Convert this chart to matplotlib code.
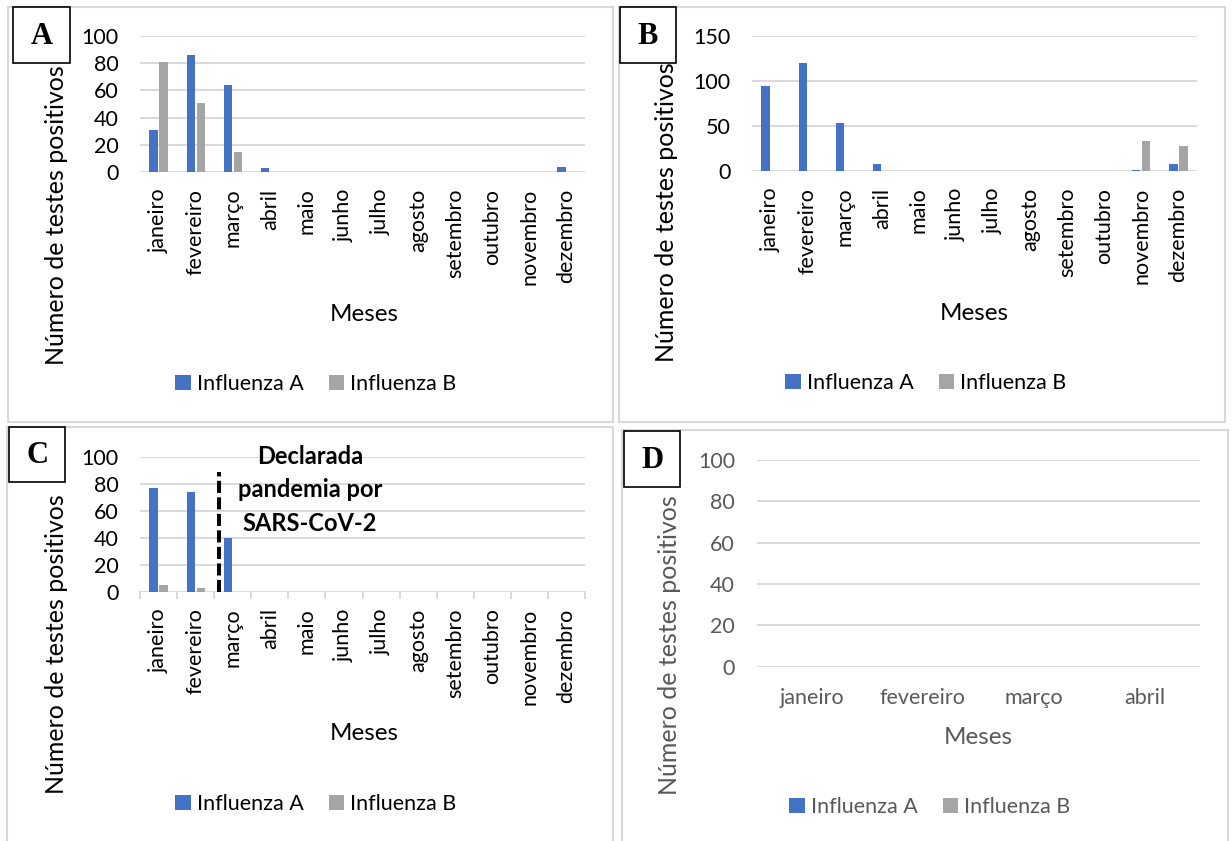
import matplotlib
matplotlib.use("Agg")
import matplotlib.pyplot as plt
from matplotlib.patches import Rectangle, Patch
import numpy as np

plt.rcParams['font.family'] = ['Lato', 'DejaVu Sans']

# ---- data -------------------------------------------------------------
meses = ["janeiro", "fevereiro", "março", "abril", "maio", "junho",
         "julho", "agosto", "setembro", "outubro", "novembro", "dezembro"]

a_flu_a = [31, 86, 64, 3, 0, 0, 0, 0, 0, 0, 0, 4]
a_flu_b = [81, 51, 15, 0, 0, 0, 0, 0, 0, 0, 0, 0]

b_flu_a = [94, 120, 53, 8, 0, 0, 0, 0, 0, 0, 1, 8]
b_flu_b = [0, 0, 0, 0, 0, 0, 0, 0, 0, 0, 33, 28]

c_flu_a = [77, 74, 40, 0, 0, 0, 0, 0, 0, 0, 0, 0]
c_flu_b = [5, 3, 0, 0, 0, 0, 0, 0, 0, 0, 0, 0]

d_meses = ["janeiro", "fevereiro", "março", "abril"]
d_flu_a = [0, 0, 0, 0]
d_flu_b = [0, 0, 0, 0]

series_names = ["Influenza A", "Influenza B"]
BLUE = "#4472C4"
GRAY = "#A5A5A5"
GRID = "#D9D9D9"

# ---- figure -----------------------------------------------------------
W, H = 1232, 841
fig = plt.figure(figsize=(W / 100, H / 100), dpi=100)
fig.patch.set_facecolor("white")


def fx(x):
    return x / W


def fy(y):
    return 1 - y / H


def px_axes(x0, y0, x1, y1):
    return fig.add_axes([fx(x0), fy(y1), (x1 - x0) / W, (y1 - y0) / H])


TICK_FS = 15.5
TITLE_FS = 17.5
YLAB_FS = 18


def panel(ax, cats, va, vb, ymax, ystep, txt_color, rotate=True,
          tickmarks=False):
    x = np.arange(len(cats))
    w = 0.22
    ax.bar(x - 0.135, va, width=w, color=BLUE, linewidth=0, zorder=3)
    ax.bar(x + 0.135, vb, width=w, color=GRAY, linewidth=0, zorder=3)
    ax.set_xlim(-0.5, len(cats) - 0.5)
    ax.set_ylim(0, ymax)
    yt = np.arange(0, ymax + 1, ystep)
    for v in yt:
        ax.axhline(v, color=GRID, lw=1.4, zorder=1)
    ax.set_yticks(yt)
    ax.set_yticklabels([str(int(v)) for v in yt])
    for s in ax.spines.values():
        s.set_visible(False)
    ax.tick_params(axis="y", length=0, pad=15.5, labelsize=TICK_FS,
                   labelcolor=txt_color)
    ax.set_xticks(x)
    if rotate:
        ax.set_xticklabels(cats, rotation=90, va="top", ha="center")
        ax.tick_params(axis="x", length=0, pad=12, labelsize=TICK_FS,
                       labelcolor=txt_color)
    else:
        ax.set_xticklabels(cats)
        ax.tick_params(axis="x", length=0, pad=15, labelsize=TICK_FS,
                       labelcolor=txt_color)
    if tickmarks:
        for b in np.arange(-0.5, len(cats), 1.0):
            ax.plot([b, b], [0, -0.05 * ymax], color=GRID, lw=1.4,
                    clip_on=False, zorder=2)
    ax.set_facecolor("none")


# panel frames
frames = [(8, 7, 613, 422), (619, 7, 1225, 422),
          (7, 427, 613, 850), (622, 430, 1228, 850)]
for (x0, y0, x1, y1) in frames:
    fig.add_artist(Rectangle((fx(x0), fy(y1)), (x1 - x0) / W, (y1 - y0) / H,
                             transform=fig.transFigure, fill=False,
                             edgecolor=GRID, lw=1.5, zorder=0))

axA = px_axes(140, 36, 585, 172)
panel(axA, meses, a_flu_a, a_flu_b, 100, 20, "black")

axB = px_axes(752, 36, 1197, 171)
panel(axB, meses, b_flu_a, b_flu_b, 150, 50, "black")

axC = px_axes(140, 456.7, 585, 591.7)
panel(axC, meses, c_flu_a, c_flu_b, 100, 20, "black", tickmarks=True)

axD = px_axes(756.5, 460, 1200, 666.7)
panel(axD, d_meses, d_flu_a, d_flu_b, 100, 20, "#595959", rotate=False)

# pandemic declaration marker on panel C
axC.plot([1.63, 1.63], [0, 89], color="black", lw=2.9,
         linestyle=(0, (3.0, 1.1)), zorder=4, clip_on=False)
axC.text(4.08, 75.5, "Declarada\npandemia por\nSARS-CoV-2", ha="center",
         va="center", fontsize=17, fontweight="bold", linespacing=1.55,
         color="black", zorder=5)

# axis titles
ylab = "Número de testes positivos"
for (x, y, col) in [(56, 215, "black"), (666, 212, "black"),
                    (56, 644, "black"), (669, 645, "#595959")]:
    fig.text(fx(x), fy(y), ylab, rotation=90, ha="center", va="center",
             fontsize=YLAB_FS, color=col)

for (x, y, col) in [(364, 315, "black"), (974, 313, "black"),
                    (364, 733, "black"), (978, 737, "#595959")]:
    fig.text(fx(x), fy(y), "Meses", ha="center", va="center",
             fontsize=TITLE_FS, color=col)

# legends
handles = [Patch(facecolor=BLUE, edgecolor="none"),
           Patch(facecolor=GRAY, edgecolor="none")]
for (x, y, col) in [(316, 384, "black"), (926, 383, "black"),
                    (316, 804, "black"), (930, 807, "#595959")]:
    lg = fig.legend(handles, series_names, loc="center",
                    bbox_to_anchor=(fx(x), fy(y)), ncol=2, frameon=False,
                    fontsize=TICK_FS, handlelength=0.7, handleheight=0.7,
                    handletextpad=0.28, columnspacing=1.2, borderpad=0,
                    borderaxespad=0)
    for t in lg.get_texts():
        t.set_color(col)

# panel letters
letters = [("A", 13, 7, 70, 63), ("B", 620, 7, 676, 63),
           ("C", 9, 427, 65, 482), ("D", 624, 431, 680, 487)]
for (lab, x0, y0, x1, y1) in letters:
    fig.add_artist(Rectangle((fx(x0), fy(y1)), (x1 - x0) / W, (y1 - y0) / H,
                             transform=fig.transFigure, facecolor="white",
                             edgecolor="black", lw=1.2, zorder=6))
    fig.text(fx((x0 + x1) / 2), fy((y0 + y1) / 2 + 1), lab, ha="center",
             va="center", fontsize=22, fontweight="bold",
             family=["Liberation Serif", "DejaVu Serif"], zorder=7)

fig.savefig("out.png", dpi=100)
